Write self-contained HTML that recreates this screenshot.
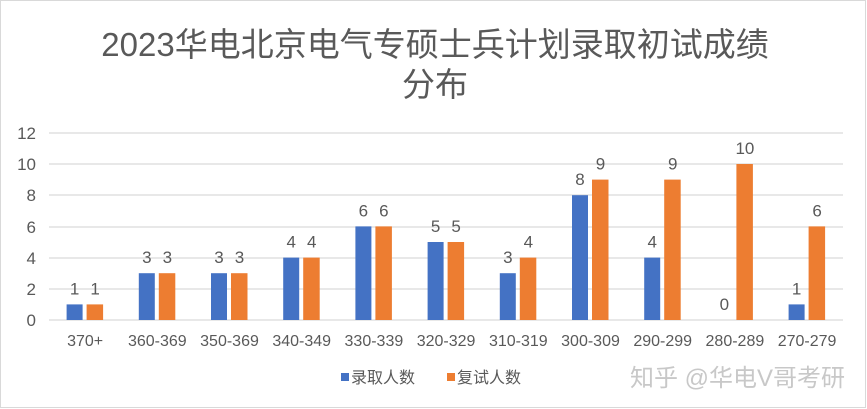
<!DOCTYPE html>
<html><head><meta charset="utf-8"><style>
body{margin:0;background:#fff}
svg{display:block}
text{font-family:"Liberation Sans","Noto Sans CJK SC",sans-serif}
</style></head><body>
<svg width="867" height="409" viewBox="0 0 867 409">
<rect x="0.5" y="0.5" width="865" height="407" fill="#fff" stroke="#d9d9d9"/>
<text x="435" y="56" font-size="33" fill="#595959" text-anchor="middle">2023华电北京电气专硕士兵计划录取初试成绩</text>
<text x="435" y="96" font-size="33" fill="#595959" text-anchor="middle">分布</text>
<g stroke="#d9d9d9" stroke-width="1.3">
<line x1="49" x2="843" y1="133" y2="133"/><line x1="49" x2="843" y1="164" y2="164"/>
<line x1="49" x2="843" y1="195" y2="195"/><line x1="49" x2="843" y1="227" y2="227"/>
<line x1="49" x2="843" y1="258" y2="258"/><line x1="49" x2="843" y1="289" y2="289"/>
<line x1="49" x2="843" y1="320" y2="320"/>
</g>
<g font-size="17" fill="#595959" text-anchor="end">
<text x="36" y="139">12</text><text x="36" y="170">10</text><text x="36" y="201">8</text>
<text x="36" y="233">6</text><text x="36" y="264">4</text><text x="36" y="295">2</text><text x="36" y="326">0</text>
</g>
<g fill="#4472c4">
<rect x="66.6" y="304.4" width="16" height="15.6"/>
<rect x="138.8" y="273.2" width="16" height="46.8"/>
<rect x="211" y="273.2" width="16" height="46.8"/>
<rect x="283.2" y="257.6" width="16" height="62.4"/>
<rect x="355.4" y="226.4" width="16" height="93.6"/>
<rect x="427.6" y="242" width="16" height="78"/>
<rect x="499.8" y="273.2" width="16" height="46.8"/>
<rect x="572" y="195.2" width="16" height="124.8"/>
<rect x="644.2" y="257.6" width="16" height="62.4"/>
<rect x="788.6" y="304.4" width="16" height="15.6"/>
</g>
<g fill="#ed7d31">
<rect x="86.6" y="304.4" width="16.5" height="15.6"/>
<rect x="158.8" y="273.2" width="16.5" height="46.8"/>
<rect x="231" y="273.2" width="16.5" height="46.8"/>
<rect x="303.2" y="257.6" width="16.5" height="62.4"/>
<rect x="375.4" y="226.4" width="16.5" height="93.6"/>
<rect x="447.6" y="242" width="16.5" height="78"/>
<rect x="519.8" y="257.6" width="16.5" height="62.4"/>
<rect x="592" y="179.6" width="16.5" height="140.4"/>
<rect x="664.2" y="179.6" width="16.5" height="140.4"/>
<rect x="736.4" y="164" width="16.5" height="156"/>
<rect x="808.6" y="226.4" width="16.5" height="93.6"/>
</g>
<g font-size="17" fill="#595959" text-anchor="middle">
<text x="74.6" y="294.4">1</text><text x="95.1" y="294.4">1</text>
<text x="146.8" y="263.2">3</text><text x="167.3" y="263.2">3</text>
<text x="219" y="263.2">3</text><text x="239.5" y="263.2">3</text>
<text x="291.2" y="247.6">4</text><text x="311.7" y="247.6">4</text>
<text x="363.4" y="216.4">6</text><text x="383.9" y="216.4">6</text>
<text x="435.6" y="232">5</text><text x="456.1" y="232">5</text>
<text x="507.8" y="263.2">3</text><text x="528.3" y="247.6">4</text>
<text x="580" y="185.2">8</text><text x="600.5" y="169.6">9</text>
<text x="652.2" y="247.6">4</text><text x="672.7" y="169.6">9</text>
<text x="724.4" y="310">0</text><text x="744.9" y="154">10</text>
<text x="796.6" y="294.4">1</text><text x="817.1" y="216.4">6</text>
</g>
<g font-size="16" fill="#595959" text-anchor="middle">
<text x="85.1" y="346">370+</text><text x="157.3" y="346">360-369</text>
<text x="229.5" y="346">350-369</text><text x="301.7" y="346">340-349</text>
<text x="373.9" y="346">330-339</text><text x="446.1" y="346">320-329</text>
<text x="518.3" y="346">310-319</text><text x="590.5" y="346">300-309</text>
<text x="662.7" y="346">290-299</text><text x="734.9" y="346">280-289</text>
<text x="807.1" y="346">270-279</text>
</g>
<rect x="341" y="373" width="8" height="8" fill="#4472c4"/>
<text x="351" y="383" font-size="16" fill="#595959">录取人数</text>
<rect x="447" y="373" width="8" height="8" fill="#ed7d31"/>
<text x="457" y="383" font-size="16" fill="#595959">复试人数</text>
<text x="845" y="386" font-size="24" fill="#c8c8c8" text-anchor="end">知乎 @华电V哥考研</text>
</svg>
</body></html>
